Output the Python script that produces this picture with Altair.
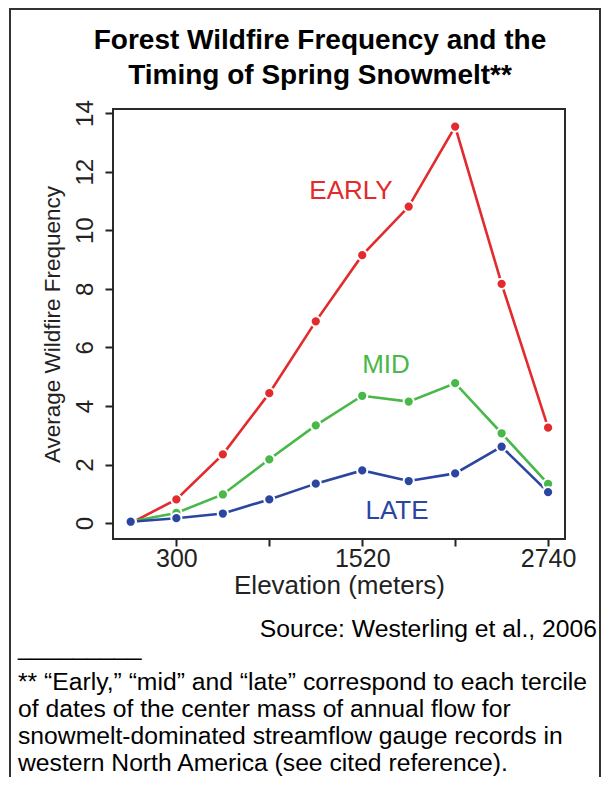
import altair as alt
import pandas as pd

# ---- data ----
elevation = [0, 300, 605, 910, 1215, 1520, 1825, 2130, 2435, 2740]
early = [0.0, 0.81, 2.35, 4.44, 6.89, 9.15, 10.81, 13.54, 8.17, 3.26]
mid = [0.06, 0.35, 0.98, 2.18, 3.34, 4.35, 4.15, 4.78, 3.07, 1.34]
late = [0.05, 0.17, 0.33, 0.81, 1.35, 1.80, 1.44, 1.70, 2.61, 1.06]

series_names = ["EARLY", "MID", "LATE"]
series_colors = ["#E32A2C", "#48B848", "#2B46A0"]
label_elev = [1446, 1676, 1748]
label_freq = [11.33, 5.41, 0.41]

x_ticks = [300, 910, 1520, 2130, 2740]
x_tick_labels = ["300", "", "1520", "", "2740"]
y_ticks = [0, 2, 4, 6, 8, 10, 12, 14]

title_lines = ["Forest Wildfire Frequency and the", "Timing of Spring Snowmelt**"]
source_text = "Source:  Westerling et al., 2006"
separator_text = "_________"
footnote_lines = [
    "** \u201cEarly,\u201d \u201cmid\u201d and \u201clate\u201d correspond to each tercile",
    "of dates of the center mass of annual flow for",
    "snowmelt-dominated streamflow gauge records in",
    "western North America (see cited reference).",
]

rows = []
for name, vals in zip(series_names, [early, mid, late]):
    for e, v in zip(elevation, vals):
        rows.append({"series": name, "elevation": e, "freq": v})
df = pd.DataFrame(rows)
labels_df = pd.DataFrame({"series": series_names, "elevation": label_elev, "freq": label_freq})
one = pd.DataFrame({"k": [0]})

FONT = "Liberation Sans"
INK = "#222222"

label_expr = " : ".join(
    f"datum.value == {v} ? '{t}'" for v, t in zip(x_ticks, x_tick_labels)
) + " : ''"

x_enc = alt.X(
    "elevation:Q",
    scale=alt.Scale(domain=[-116, 2851], nice=False, zero=False),
    axis=alt.Axis(
        values=x_ticks, labelExpr=label_expr, title="Elevation (meters)",
        domain=False, grid=False, tickSize=7, tickWidth=2, tickColor=INK,
        labelFont=FONT, labelFontSize=25, labelColor=INK, labelPadding=0,
        labelFlush=False, labelOverlap=False,
        titleFont=FONT, titleFontSize=26, titleFontWeight="normal", titleColor=INK,
        titlePadding=1,
    ),
)
y_enc = alt.Y(
    "freq:Q",
    scale=alt.Scale(domain=[-0.54, 14.14], nice=False, zero=False),
    axis=alt.Axis(
        values=y_ticks, title="Average Wildfire Frequency",
        domain=False, grid=False, tickSize=8, tickWidth=2, tickColor=INK,
        labelFont=FONT, labelFontSize=24, labelColor=INK, labelAngle=270,
        labelAlign="center", labelBaseline="bottom", labelPadding=8,
        labelFlush=False, labelOverlap=False,
        titleFont=FONT, titleFontSize=22.5, titleFontWeight="normal", titleColor=INK,
        titlePadding=9,
    ),
)
color_enc = alt.Color(
    "series:N", scale=alt.Scale(domain=series_names, range=series_colors), legend=None
)

lines = alt.Chart(df).mark_line(strokeWidth=2.6).encode(
    x=x_enc, y=y_enc, color=color_enc, detail="series:N"
)
points = alt.Chart(df).mark_point(
    filled=True, size=105, stroke="white", strokeWidth=2, opacity=1
).encode(x=x_enc, y=y_enc, color=color_enc)
labels = alt.Chart(labels_df).mark_text(
    font=FONT, fontSize=26, align="center", baseline="middle"
).encode(x=x_enc, y=y_enc, text="series:N", color=color_enc)

border = alt.Chart(one).mark_rect(
    fill="white", fillOpacity=0, stroke="#333333", strokeWidth=2
).encode(x=alt.value(-103), x2=alt.value(487), y=alt.value(-100), y2=alt.value(760))

title = alt.Chart(one).mark_text(
    text=title_lines, font=FONT, fontSize=28, fontWeight="bold", align="center",
    baseline="alphabetic", lineHeight=35, color="black"
).encode(x=alt.value(207), y=alt.value(-60))

source = alt.Chart(one).mark_text(
    text=source_text, font=FONT, fontSize=24.7, align="right", baseline="alphabetic", color="black"
).encode(x=alt.value(484), y=alt.value(528))
separator = alt.Chart(one).mark_text(
    text=separator_text, font=FONT, fontSize=24.7, align="left", baseline="alphabetic", color="black"
).encode(x=alt.value(-95), y=alt.value(546))
footnote = alt.Chart(one).mark_text(
    text=footnote_lines, font=FONT, fontSize=24.7, align="left", baseline="alphabetic",
    lineHeight=27, color="black"
).encode(x=alt.value(-95), y=alt.value(581))

chart = alt.layer(border, lines, points, labels, title, source, separator, footnote).properties(
    width=452,
    height=430,
    autosize="none",
    background="white",
    padding={"left": 105, "top": 101, "right": 37, "bottom": 238},
).configure_view(stroke="#2a2a2a", strokeWidth=2)

chart.save("out.html", embed_options={"renderer": "svg", "actions": False})
